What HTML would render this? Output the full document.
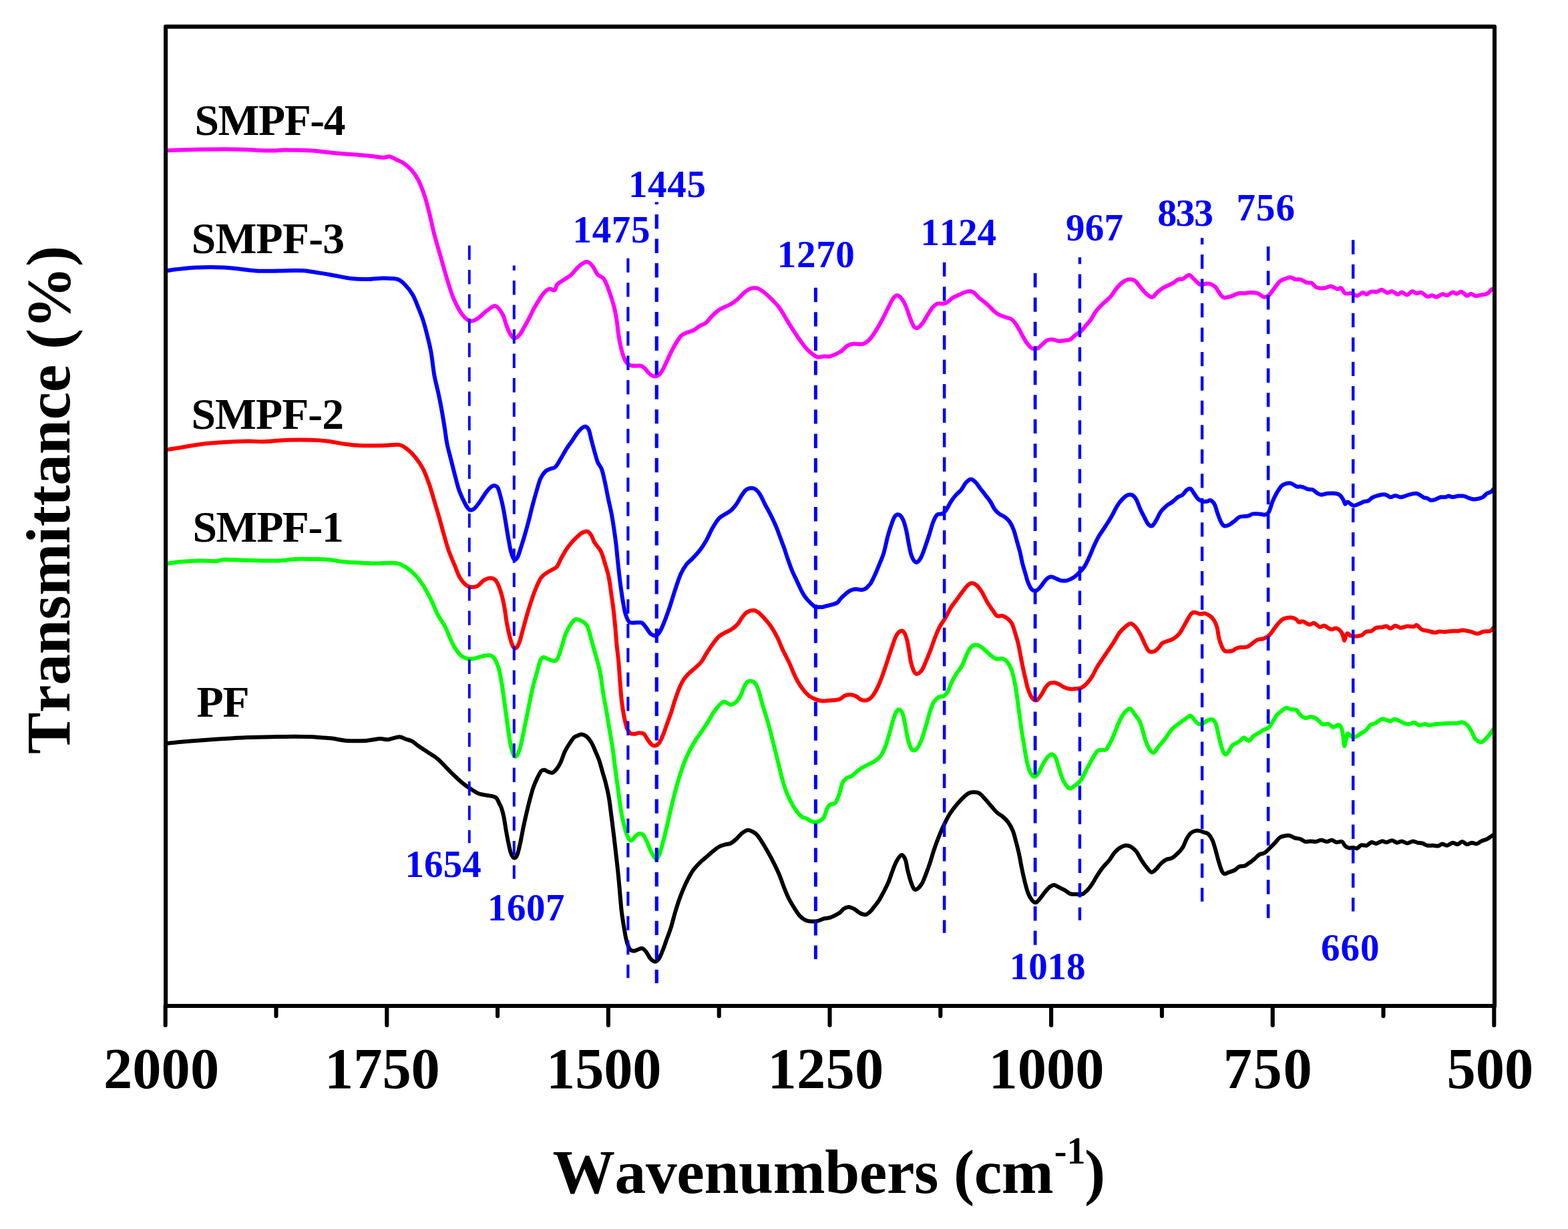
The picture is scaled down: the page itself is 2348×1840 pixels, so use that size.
<!DOCTYPE html>
<html lang="en">
<head>
<meta charset="utf-8">
<title>FTIR spectra of PF and SMPF resins</title>
<style>
html,body{margin:0;padding:0;background:#fff;}
body{width:2348px;height:1840px;overflow:hidden;}
svg{display:block;}
text{font-family:"Liberation Serif","DejaVu Serif",serif;font-weight:bold;font-kerning:none;white-space:pre;}
.c{fill:none;stroke-linejoin:round;stroke-linecap:butt;stroke-width:6.0;}
.d{fill:none;stroke:#00f;stroke-linecap:butt;}
.ax{stroke:#000;fill:none;stroke-linecap:round;stroke-width:6.1;}
.pk{fill:#00f;font-size:57px;}
.lb{fill:#000;font-size:65.6px;}
.tk{fill:#000;font-size:86.5px;}
.tt{fill:#000;font-size:93.5px;}
</style>
</head>
<body>
<svg width="2348" height="1840" viewBox="0 0 2348 1840">
<rect x="0" y="0" width="2348" height="1840" fill="#fff"/>
<g id="curves">
<path class="c" stroke="#000" d="M247.5 1113.2C251.4 1112.8 262.3 1111.6 271 1110.8C279.7 1110 288.9 1109.2 299.6 1108.4C310.4 1107.6 323.5 1106.8 335.4 1106.1C347.3 1105.3 359.3 1104.6 371.2 1104.1C383.1 1103.7 395 1103.4 407 1103.2C418.9 1103 432.4 1102.7 442.8 1102.7C453.1 1102.7 463 1103 469 1103.2C475 1103.4 473.8 1103.7 478.5 1104.1C483.3 1104.5 490.9 1104.8 497.6 1105.6C504.4 1106.4 510.7 1108.4 519.1 1108.9C527.4 1109.5 539.4 1109.4 547.7 1108.9C556.1 1108.4 563.6 1106.3 569.2 1106.1C574.7 1105.8 576.3 1107.7 581.1 1107.2C585.9 1106.8 593.4 1103.3 597.8 1103.2C602.2 1103.1 604.2 1105.5 607.3 1106.5C610.5 1107.6 613.7 1107.9 616.9 1109.6C620.1 1111.3 622.4 1114 626.4 1116.8C630.4 1119.6 636 1123.1 640.7 1126.3C645.5 1129.5 650.7 1132.3 655 1135.9C659.4 1139.4 662.6 1143.4 667 1147.8C671.3 1152.2 676.9 1157.9 681.3 1162.1C685.7 1166.3 689.2 1169.7 693.2 1172.8C697.2 1176 701.2 1178.6 705.1 1181.2C709.1 1183.8 713.1 1186.8 717.1 1188.3C721 1189.9 724.8 1189.8 729 1190.7C733.2 1191.6 738.9 1191.6 742.1 1193.8C745.3 1196 746.6 1201.3 748.1 1203.9C749.5 1206.4 749.7 1206.2 750.7 1209.3C751.8 1212.4 753.1 1216.6 754.3 1222.4C755.5 1228.1 756.7 1237.1 757.9 1243.9C759.1 1250.6 760.3 1257.4 761.5 1262.9C762.7 1268.5 763.7 1273.7 765 1277.2C766.4 1280.8 768.2 1284 769.8 1284.4C771.4 1284.8 773 1283.6 774.6 1279.6C776.2 1275.7 777.8 1267.7 779.4 1260.6C780.9 1253.4 782.5 1244.3 784.1 1236.7C785.7 1229.1 787.3 1222 788.9 1215.2C790.5 1208.5 792.1 1202.1 793.7 1196.1C795.3 1190.2 796.7 1184.6 798.4 1179.4C800.2 1174.3 802.4 1169.3 804.4 1165.1C806.4 1161 808.6 1156.5 810.4 1154.4C812.2 1152.3 813.3 1152.5 815.1 1152.7C816.9 1152.9 819.1 1154.9 821.1 1155.6C823.1 1156.3 825.1 1157.4 827.1 1156.8C829.1 1156.2 831 1154.4 833 1152C835 1149.6 836.8 1147 839 1142.5C841.2 1137.9 843.8 1129.6 846.1 1124.6C848.5 1119.6 851.1 1116 853.3 1112.7C855.5 1109.3 857.3 1106.2 859.3 1104.3C861.3 1102.4 863.2 1102 865.2 1101.2C867.2 1100.4 869 1099.3 871.2 1099.5C873.4 1099.8 876 1100.7 878.3 1102.6C880.7 1104.6 883.3 1107.8 885.5 1111.5C887.7 1115.1 889.5 1120 891.5 1124.6C893.5 1129.2 895.6 1133.7 897.4 1138.9C899.2 1144.1 900.6 1150 902.2 1155.6C903.8 1161.2 905.4 1165.9 907 1172.3C908.6 1178.7 910.4 1185.8 911.7 1193.8C913.1 1201.7 914.1 1210.9 915.3 1220C916.5 1229.1 917.7 1238.7 918.9 1248.6C920.1 1258.6 921.4 1269.8 922.5 1279.6C923.6 1289.4 924.6 1297.6 925.6 1307.3C926.6 1317.1 927.6 1328.8 928.4 1338.3C929.3 1347.9 929.8 1356.2 930.8 1364.6C931.8 1372.9 933.2 1381.3 934.4 1388.4C935.6 1395.6 936.6 1402.2 938 1407.5C939.4 1412.9 941 1417.9 942.8 1420.6C944.5 1423.3 946.7 1423.5 948.7 1423.7C950.7 1423.9 952.5 1422.5 954.7 1421.8C956.9 1421.2 959.6 1419.3 961.8 1419.9C964 1420.5 965.8 1422.9 967.8 1425.4C969.8 1427.9 971.6 1432.6 973.8 1435C975.9 1437.3 978.7 1439.7 980.9 1439.7C983.1 1439.7 984.9 1437.9 986.9 1435C988.9 1432 990.9 1426.8 992.8 1421.8C994.8 1416.9 996.8 1410.7 998.8 1405.1C1000.8 1399.6 1002.8 1394.8 1004.8 1388.4C1006.8 1382.1 1008.7 1373.7 1010.7 1367C1012.7 1360.2 1014.7 1353.7 1016.7 1347.9C1018.7 1342.1 1020.5 1337.6 1022.7 1332.4C1024.8 1327.2 1027.2 1321.9 1029.8 1316.9C1032.4 1311.9 1035.2 1306.7 1038.2 1302.6C1041.1 1298.4 1044.5 1295 1047.7 1291.8C1050.9 1288.7 1054.1 1286.3 1057.2 1283.5C1060.4 1280.7 1063.6 1277.7 1066.8 1275.1C1070 1272.6 1073.1 1269.8 1076.3 1268C1079.5 1266.2 1082.9 1265.3 1085.9 1264.4C1088.9 1263.5 1091.4 1263.9 1094.2 1262.5C1097 1261.1 1099.8 1258.5 1102.6 1256.1C1105.4 1253.6 1108.1 1249.9 1110.9 1247.7C1113.7 1245.5 1116.7 1243.4 1119.3 1242.9C1121.9 1242.5 1124 1243.7 1126.4 1244.8C1128.8 1246 1131 1247.2 1133.6 1250.1C1136.2 1253 1139.1 1257.6 1141.9 1262C1144.7 1266.4 1147.5 1271.4 1150.3 1276.3C1153.1 1281.3 1155.8 1286.3 1158.6 1291.8C1161.4 1297.4 1164.4 1303.6 1167 1309.7C1169.6 1315.9 1171.7 1322.8 1174.1 1328.8C1176.5 1334.8 1178.7 1340.3 1181.3 1345.5C1183.9 1350.7 1186.9 1355.4 1189.6 1359.8C1192.4 1364.2 1195.2 1368.8 1198 1371.7C1200.8 1374.7 1203.5 1376.4 1206.3 1377.7C1209.1 1379 1211.7 1379.2 1214.7 1379.4C1217.7 1379.6 1221 1379.6 1224.2 1378.9C1227.4 1378.2 1230.6 1376.2 1233.8 1375.3C1236.9 1374.4 1239.5 1375 1243.3 1373.7C1247.1 1372.3 1253.3 1369.2 1256.7 1367C1260.1 1364.7 1261.5 1361.8 1263.9 1360.3C1266.2 1358.8 1268.4 1357.8 1271 1357.9C1273.6 1358 1276.6 1359.5 1279.4 1361C1282.1 1362.5 1284.9 1365.6 1287.7 1367C1290.5 1368.4 1293.5 1369.8 1296.1 1369.4C1298.6 1369 1301 1366.6 1303.2 1364.6C1305.4 1362.6 1307 1360.2 1309.2 1357.4C1311.4 1354.6 1313.9 1351.7 1316.3 1347.9C1318.7 1344.1 1321.1 1339.4 1323.5 1334.8C1325.9 1330.2 1328.5 1325.4 1330.6 1320.2C1332.8 1315 1334.6 1308.7 1336.6 1303.5C1338.6 1298.3 1340.4 1293.1 1342.6 1289.2C1344.8 1285.3 1347.5 1280.5 1349.7 1280.1C1351.9 1279.7 1354.1 1282.9 1355.7 1286.8C1357.3 1290.7 1357.9 1297.9 1359.3 1303.5C1360.7 1309.1 1362.4 1315.6 1364 1320.2C1365.6 1324.8 1367.2 1329.1 1368.8 1330.9C1370.4 1332.7 1371.6 1332.3 1373.6 1330.9C1375.6 1329.5 1378.5 1326.3 1380.7 1322.6C1382.9 1318.8 1384.7 1313.4 1386.7 1308.3C1388.7 1303.1 1390.7 1297.5 1392.7 1291.6C1394.6 1285.6 1396.6 1278.4 1398.6 1272.5C1400.6 1266.5 1402.4 1261.3 1404.6 1255.8C1406.8 1250.2 1409 1245 1411.7 1239.1C1414.5 1233.1 1418.1 1225.4 1421.3 1220C1424.5 1214.6 1427.6 1210.9 1430.8 1206.9C1434 1202.9 1437.2 1199.3 1440.4 1196.1C1443.5 1193 1446.9 1189.5 1449.9 1187.8C1452.9 1186.1 1455.5 1186.1 1458.3 1186.1C1461 1186.1 1463.8 1186.1 1466.6 1187.8C1469.4 1189.5 1472.2 1193.2 1475 1196.1C1477.7 1199.1 1480.3 1202.3 1483.3 1205.7C1486.3 1209.1 1489.9 1213.6 1492.8 1216.4C1495.8 1219.2 1498.4 1220 1501.2 1222.4C1504 1224.8 1507 1227.2 1509.5 1230.7C1512.1 1234.3 1514.7 1238.9 1516.7 1243.9C1518.7 1248.8 1519.9 1254.6 1521.5 1260.6C1523.1 1266.5 1524.8 1273.3 1526.2 1279.6C1527.6 1286 1528.4 1292 1529.8 1298.7C1531.2 1305.5 1533 1313.8 1534.6 1320.2C1536.2 1326.5 1537.6 1332.3 1539.4 1336.9C1541.1 1341.5 1543.3 1345.2 1545.3 1347.6C1547.3 1350 1549.1 1351.8 1551.3 1351.2C1553.5 1350.6 1556.1 1346.8 1558.4 1344C1560.8 1341.3 1563.2 1337.3 1565.6 1334.5C1568 1331.7 1570.6 1328.9 1572.8 1327.3C1574.9 1325.7 1576.5 1324.8 1578.7 1325C1580.9 1325.2 1583.3 1327.3 1585.9 1328.5C1588.5 1329.8 1591.4 1331 1594.2 1332.6C1597 1334.2 1599.6 1337 1602.6 1338.1C1605.6 1339.1 1609.1 1338.7 1612.1 1338.8C1615.1 1338.9 1617.7 1339.9 1620.5 1338.8C1623.2 1337.7 1626.2 1334.8 1628.8 1332.1C1631.4 1329.4 1633.6 1326.1 1636 1322.6C1638.3 1319 1640.5 1314.6 1643.1 1310.6C1645.7 1306.7 1648.5 1302.5 1651.5 1298.7C1654.4 1294.9 1658 1291.8 1661 1288C1664 1284.2 1666.6 1279.2 1669.4 1276.1C1672.1 1272.9 1674.9 1270.6 1677.7 1268.9C1680.5 1267.2 1683.5 1266 1686.1 1265.8C1688.6 1265.6 1690.6 1266.2 1693.2 1267.7C1695.8 1269.2 1699 1271.7 1701.6 1274.9C1704.1 1278 1706.1 1282.8 1708.7 1286.8C1711.3 1290.8 1714.5 1295.5 1717.1 1298.7C1719.6 1301.9 1721.8 1305.5 1724.2 1305.9C1726.6 1306.3 1729 1303.3 1731.4 1301.1C1733.8 1298.9 1735.9 1295.1 1738.5 1292.8C1741.1 1290.4 1744.1 1288.2 1746.9 1286.8C1749.7 1285.4 1752.7 1286 1755.5 1284.4C1758.3 1282.8 1761.3 1279.8 1763.9 1277.2C1766.4 1274.7 1768.8 1272.5 1771 1268.9C1773.2 1265.3 1775 1259.4 1777 1255.8C1779 1252.2 1780.7 1249.4 1782.9 1247.4C1785.1 1245.4 1787.9 1244.4 1790.1 1243.9C1792.3 1243.3 1793.9 1243.5 1796.1 1243.9C1798.2 1244.3 1801 1245.4 1803.2 1246.2C1805.4 1247 1807.2 1246.8 1809.2 1248.6C1811.2 1250.4 1813.3 1253.2 1815.1 1257C1816.9 1260.7 1818.3 1265.9 1819.9 1271.3C1821.5 1276.7 1823.1 1283.8 1824.7 1289.2C1826.3 1294.5 1828 1300.3 1829.4 1303.5C1830.9 1306.7 1831.7 1307.9 1833.5 1308.3C1835.3 1308.7 1837.7 1306.7 1840.2 1305.9C1842.7 1305 1845.9 1304.4 1848.5 1303C1851.1 1301.6 1853.1 1298.6 1855.7 1297.5C1858.3 1296.4 1861.5 1297.3 1864 1296.3C1866.6 1295.3 1868.8 1293.2 1871.2 1291.6C1873.6 1289.9 1876 1288.3 1878.3 1286.3C1880.7 1284.3 1882.9 1281.2 1885.5 1279.6C1888.1 1278 1891.1 1278.6 1893.9 1276.8C1896.6 1275 1899.6 1271.4 1902.2 1268.9C1904.8 1266.4 1907 1264.2 1909.4 1261.7C1911.7 1259.2 1914.1 1255.6 1916.5 1253.9C1918.9 1252.2 1921.3 1252 1923.7 1251.5C1926.1 1251 1928.2 1250.5 1930.8 1251C1933.4 1251.5 1936.4 1253.7 1939.2 1254.6C1942 1255.5 1944.9 1255.3 1947.5 1256.3C1950.1 1257.2 1952.1 1259.6 1954.7 1260.1C1957.3 1260.6 1960.4 1259.4 1963 1259.4C1965.6 1259.4 1967.6 1260.4 1970.2 1260.1C1972.8 1259.8 1975.7 1257.7 1978.5 1257.7C1981.3 1257.7 1984.3 1260.1 1986.9 1260.1C1989.5 1260.1 1991.7 1257.5 1994 1257.7C1996.4 1257.8 1998.6 1260.6 2001.2 1261C2003.8 1261.4 2007.4 1259.2 2009.5 1260.1C2011.7 1261 2012.5 1264.9 2014.3 1266.5C2016.1 1268.1 2018.3 1269.2 2020.3 1269.6C2022.3 1270 2024.3 1268.8 2026.2 1268.9C2028.2 1269 2030.2 1270.7 2032.2 1270.1C2034.2 1269.5 2035.8 1266 2038.2 1265.3C2040.6 1264.6 2043.9 1266.5 2046.5 1265.8C2049.1 1265.1 2051.3 1261.5 2053.7 1261C2056.1 1260.6 2058.2 1263.2 2060.8 1262.9C2063.4 1262.7 2066.6 1259.7 2069.2 1259.4C2071.8 1259 2073.7 1261.2 2076.3 1261C2078.9 1260.8 2082.1 1258 2084.7 1258.2C2087.3 1258.3 2089.4 1261.5 2091.8 1261.7C2094.2 1261.9 2096.4 1259.2 2099 1259.4C2101.6 1259.5 2104.6 1262.5 2107.3 1262.5C2110.1 1262.5 2113.1 1259.5 2115.7 1259.4C2118.3 1259.2 2120.5 1261.2 2122.8 1261.7C2125.2 1262.3 2127.6 1261.8 2130 1262.5C2132.4 1263.1 2134.6 1265.2 2137.2 1265.8C2139.7 1266.4 2142.7 1265.7 2145.5 1265.8C2148.3 1265.9 2151.5 1266.9 2153.9 1266.5C2156.2 1266.1 2157.6 1263.5 2159.8 1263.4C2162 1263.3 2164.4 1266.1 2167 1265.8C2169.6 1265.5 2172.7 1262 2175.3 1261.7C2177.9 1261.5 2180.1 1264.4 2182.5 1264.1C2184.9 1263.9 2187.2 1260.1 2189.6 1260.1C2192 1260.1 2194.4 1263.9 2196.8 1264.1C2199.2 1264.4 2201.6 1261.9 2203.9 1261.7C2206.3 1261.6 2208.7 1263.8 2211.1 1263.4C2213.5 1263 2215.7 1260.6 2218.3 1259.4C2220.8 1258.2 2224 1257.6 2226.6 1256.3C2229.2 1254.9 2232 1252.6 2233.8 1251.5C2235.6 1250.4 2236.5 1250.2 2237.3 1249.8C2238.2 1249.5 2238.7 1249.4 2239 1249.4"><title>PF</title></path>
<path class="c" stroke="#0f0" d="M247.5 844.1C251.4 843.6 262.3 841.8 271 841C279.7 840.2 290.9 839.5 299.6 839.4C308.4 839.2 317.5 840.4 323.5 840.1C329.4 839.8 329.4 837.9 335.4 837.7C341.4 837.4 349.3 838.4 359.3 838.6C369.2 838.9 385.1 839.2 395 839.4C405 839.5 410.9 839.8 418.9 839.4C426.9 839 434.8 837.4 442.8 837C450.7 836.6 458.7 836.9 466.6 837C474.6 837.1 482.5 837 490.5 837.7C498.4 838.4 506.4 840.2 514.3 841C522.3 841.8 530.2 842.1 538.2 842.5C546.1 842.9 552.9 843.3 562 843.4C571.2 843.5 585.5 842 593 842.9C600.6 843.9 602.6 845.9 607.3 848.9C612.1 851.9 617.3 856.3 621.7 860.8C626 865.4 629.6 870.2 633.6 876.3C637.6 882.5 641.9 890.6 645.5 897.8C649.1 905 651.5 912.4 655 919.3C658.6 926.1 663.8 933 667 939.1C670.2 945.2 671.7 950.6 674.1 955.8C676.5 960.9 678.7 965.9 681.3 970.1C683.9 974.3 686.9 978.2 689.6 980.8C692.4 983.4 695 984.7 698 985.6C701 986.5 704.3 986.6 707.5 986.3C710.7 986 713.9 984.7 717.1 983.9C720.2 983.1 723.6 981.9 726.6 981.5C729.6 981.1 732.6 980.7 735 981.5C737.3 982.4 738.9 983.5 740.9 986.8C742.9 990 745.2 995.6 746.9 1001.1C748.5 1006.6 749.5 1012.6 750.7 1019.6C752 1026.7 753.1 1035.1 754.3 1043.5C755.5 1051.8 756.7 1061 757.9 1069.7C759.1 1078.5 760.3 1088 761.5 1096C762.7 1103.9 763.7 1111.5 765 1117.4C766.4 1123.3 768.2 1129.1 769.8 1131.3C771.4 1133.5 773 1132.9 774.6 1130.6C776.2 1128.2 777.8 1123.2 779.4 1117.4C780.9 1111.7 782.5 1103.5 784.1 1096C785.7 1088.4 787.3 1080.1 788.9 1072.1C790.5 1064.2 792.1 1055.8 793.7 1048.3C795.3 1040.7 796.7 1033.9 798.4 1026.8C800.2 1019.6 802.6 1011.7 804.4 1005.3C806.2 999 807.6 992.2 809.2 988.6C810.8 985 811.8 984.1 813.9 983.9C816.1 983.7 819.5 986.4 822.3 987.4C825.1 988.4 828.5 990.2 830.6 989.8C832.8 989.4 833.6 988.8 835.4 985C837.2 981.3 839.4 973.5 841.4 967.3C843.4 961.2 845.2 953.6 847.3 948.3C849.5 942.9 852.1 938.6 854.5 935.1C856.9 931.6 859.1 928.3 861.7 927.3C864.2 926.3 867 927.5 870 929.2C873 930.9 877 932.8 879.5 937.5C882.1 942.3 883.5 950.8 885.5 957.8C887.5 964.8 889.7 972.9 891.5 979.3C893.3 985.6 894.8 990.2 896.2 995.8C897.6 1001.3 898.6 1005.3 899.8 1012.5C901 1019.6 902 1030 903.4 1038.7C904.8 1047.5 906.6 1055.8 908.2 1065C909.8 1074.1 911.3 1084 912.9 1093.6C914.5 1103.1 916.3 1112.7 917.7 1122.2C919.1 1131.7 920.1 1141.7 921.3 1150.8C922.5 1160 923.7 1168.3 924.9 1177.1C926.1 1185.8 927.2 1195.4 928.4 1203.3C929.6 1211.3 930.6 1218 932 1224.8C933.4 1231.5 935.2 1238.7 936.8 1243.9C938.4 1249 940 1253.4 941.6 1255.8C943.1 1258.2 944.7 1258.8 946.3 1258.2C947.9 1257.6 949.3 1253.9 951.1 1252.2C952.9 1250.5 955.1 1248.5 957.1 1248.1C959.1 1247.7 961 1247.7 963 1249.8C965 1251.9 967.2 1256.8 969 1260.6C970.8 1264.3 972 1268.7 973.8 1272.5C975.6 1276.3 978.1 1281 979.7 1283.2C981.3 1285.4 981.9 1286.6 983.3 1285.6C984.7 1284.6 986.5 1281.4 988.1 1277.2C989.7 1273.1 991.1 1267.3 992.8 1260.6C994.6 1253.8 996.8 1245 998.8 1236.7C1000.8 1228.3 1002.8 1218.8 1004.8 1210.5C1006.8 1202.1 1008.7 1194.2 1010.7 1186.6C1012.7 1179.1 1014.5 1172.3 1016.7 1165.1C1018.9 1158 1021.3 1150.4 1023.9 1143.7C1026.4 1136.9 1029.2 1130.6 1032.2 1124.6C1035.2 1118.6 1038.8 1112.7 1041.7 1107.9C1044.7 1103.1 1047.1 1100.3 1050.1 1096C1053.1 1091.6 1056.7 1086.4 1059.6 1081.7C1062.6 1076.9 1065.2 1071.5 1068 1067.3C1070.8 1063.2 1073.7 1059.4 1076.3 1056.6C1078.9 1053.8 1081.1 1051.2 1083.5 1050.6C1085.9 1050.1 1088.7 1052.8 1090.6 1053.5C1092.6 1054.2 1093.4 1055.4 1095.4 1054.9C1097.4 1054.5 1100.4 1052.7 1102.6 1050.6C1104.8 1048.5 1106.5 1046.1 1108.5 1042.3C1110.5 1038.5 1112.7 1031.6 1114.5 1028C1116.3 1024.4 1117.5 1022.2 1119.3 1020.8C1121.1 1019.4 1123.2 1019.2 1125.2 1019.6C1127.2 1020 1129.4 1020.8 1131.2 1023.2C1133 1025.6 1134.2 1028.6 1136 1033.9C1137.8 1039.3 1139.9 1048.7 1141.9 1055.4C1143.9 1062.2 1145.9 1067.7 1147.9 1074.5C1149.9 1081.3 1151.9 1088.4 1153.9 1096C1155.8 1103.5 1157.8 1111.9 1159.8 1119.8C1161.8 1127.8 1163.8 1135.7 1165.8 1143.7C1167.8 1151.6 1169.6 1160 1171.7 1167.5C1173.9 1175.1 1176.3 1182.6 1178.9 1189C1181.5 1195.4 1184.7 1201.1 1187.2 1205.7C1189.8 1210.3 1192 1213.4 1194.4 1216.4C1196.8 1219.4 1199.4 1222.1 1201.6 1223.6C1203.7 1225 1205.5 1224.3 1207.5 1225.2C1209.5 1226.2 1211.5 1228.1 1213.5 1229.1C1215.5 1230 1217.3 1230.7 1219.4 1230.7C1221.6 1230.8 1224.2 1230.7 1226.6 1229.5C1229 1228.3 1231.8 1226.8 1233.8 1223.6C1235.7 1220.4 1236.9 1213.6 1238.5 1210.5C1240.1 1207.3 1241.3 1205.9 1243.3 1204.5C1245.3 1203.1 1248.5 1204.7 1250.7 1202.1C1253 1199.5 1254.9 1194 1256.7 1189C1258.5 1184 1259.7 1176.3 1261.5 1172.3C1263.3 1168.3 1265 1166.9 1267.4 1165.1C1269.8 1163.3 1272.8 1163.5 1275.8 1161.6C1278.8 1159.6 1281.7 1155.8 1285.3 1153.2C1288.9 1150.6 1293.3 1148.2 1297.2 1146.1C1301.2 1143.9 1305.6 1142.5 1309.2 1140.1C1312.8 1137.7 1315.9 1135.5 1318.7 1131.7C1321.5 1128 1323.7 1123 1325.9 1117.4C1328.1 1111.9 1329.8 1105.1 1331.8 1098.3C1333.8 1091.6 1336 1082.4 1337.8 1076.9C1339.6 1071.3 1341 1067.3 1342.6 1065C1344.2 1062.6 1345.7 1061.8 1347.3 1062.6C1348.9 1063.4 1350.7 1065.7 1352.1 1069.7C1353.5 1073.7 1354.5 1080.5 1355.7 1086.4C1356.9 1092.4 1357.9 1099.9 1359.3 1105.5C1360.7 1111.1 1362.4 1116.8 1364 1119.8C1365.6 1122.8 1367 1123.6 1368.8 1123.4C1370.6 1123.2 1372.8 1121.6 1374.8 1118.6C1376.8 1115.6 1378.7 1110.9 1380.7 1105.5C1382.7 1100.1 1384.7 1093.2 1386.7 1086.4C1388.7 1079.7 1390.7 1070.9 1392.7 1065C1394.6 1059 1396.4 1054.2 1398.6 1050.6C1400.8 1047.1 1403.4 1044.9 1405.8 1043.5C1408.2 1042.1 1410.7 1043.5 1412.9 1042.3C1415.1 1041.1 1416.9 1039.7 1418.9 1036.3C1420.9 1033 1422.7 1026.6 1424.9 1022C1427 1017.4 1429.4 1013.1 1432 1008.9C1434.6 1004.7 1437.8 1001.7 1440.4 997C1443 992.2 1445.3 984.8 1447.5 980.3C1449.7 975.7 1451.3 972 1453.5 969.5C1455.7 967 1458.3 965.6 1460.6 965.2C1463 964.9 1465.2 966.1 1467.8 967.6C1470.4 969.1 1473.2 971.8 1476.1 974.3C1479.1 976.8 1482.9 980.6 1485.7 982.7C1488.5 984.7 1490.3 986.2 1492.8 986.7C1495.4 987.2 1498.6 985 1501.2 985.8C1503.8 986.5 1506.2 988.3 1508.3 991C1510.5 993.7 1512.5 997 1514.3 1001.7C1516.1 1006.5 1517.7 1013.1 1519.1 1019.6C1520.5 1026.2 1521.5 1033.1 1522.7 1041.1C1523.9 1049.1 1525 1058.6 1526.2 1067.3C1527.4 1076.1 1528.6 1085.6 1529.8 1093.6C1531 1101.5 1532.2 1107.9 1533.4 1115C1534.6 1122.2 1535.8 1130.6 1537 1136.5C1538.2 1142.5 1539.2 1146.9 1540.6 1150.8C1541.9 1154.8 1543.7 1158.4 1545.3 1160.4C1546.9 1162.4 1548.3 1163.5 1550.1 1162.8C1551.9 1162 1554.1 1158.8 1556.1 1155.6C1558 1152.4 1559.8 1147.4 1562 1143.7C1564.2 1139.9 1566.8 1135.3 1569.2 1132.9C1571.6 1130.6 1574.3 1129 1576.3 1129.4C1578.3 1129.8 1579.5 1131.7 1581.1 1135.3C1582.7 1138.9 1584.3 1145.9 1585.9 1150.8C1587.5 1155.8 1588.9 1161 1590.6 1165.1C1592.4 1169.3 1594.6 1173.3 1596.6 1175.9C1598.6 1178.5 1600.4 1180.6 1602.6 1180.6C1604.8 1180.6 1607.1 1177.9 1609.7 1175.9C1612.3 1173.9 1615.3 1172.5 1618.1 1168.7C1620.9 1164.9 1623.6 1158.4 1626.4 1153.2C1629.2 1148 1632 1142.5 1634.8 1137.7C1637.6 1132.9 1640.5 1127.1 1643.1 1124.6C1645.7 1122.1 1648.1 1123.1 1650.3 1122.7C1652.5 1122.3 1654.1 1124.3 1656.2 1122.2C1658.4 1120.1 1661 1115 1663.4 1110.3C1665.8 1105.5 1668.4 1098.7 1670.6 1093.6C1672.7 1088.4 1674.3 1083.6 1676.5 1079.3C1678.7 1074.9 1681.1 1070.4 1683.7 1067.3C1686.3 1064.2 1689.4 1060.3 1692 1060.7C1694.6 1061.1 1696.8 1066.6 1699.2 1069.7C1701.6 1072.8 1704.3 1075.3 1706.3 1079.3C1708.3 1083.2 1709.5 1088.4 1711.1 1093.6C1712.7 1098.7 1714.1 1105.5 1715.9 1110.3C1717.7 1115 1719.8 1119.4 1721.8 1122.2C1723.8 1125 1725.6 1127.8 1727.8 1127C1730 1126.2 1732.4 1120.6 1735 1117.4C1737.5 1114.3 1740.1 1112.1 1743.3 1107.9C1746.5 1103.7 1751.1 1096.2 1754.3 1092.4C1757.5 1088.6 1759.9 1087.4 1762.7 1085.2C1765.4 1083 1768.4 1081.1 1771 1079.3C1773.6 1077.4 1776.2 1075.3 1778.2 1074C1780.2 1072.7 1781.1 1071 1782.9 1071.6C1784.7 1072.3 1786.9 1076 1788.9 1078.1C1790.9 1080.1 1792.7 1083.2 1794.9 1084C1797 1084.8 1799.6 1083.8 1802 1082.8C1804.4 1081.9 1806.8 1079 1809.2 1078.1C1811.6 1077.2 1814.3 1076.2 1816.3 1077.4C1818.3 1078.6 1819.7 1081.3 1821.1 1085.2C1822.5 1089.1 1823.5 1095.8 1824.7 1100.7C1825.9 1105.7 1827.1 1110.9 1828.3 1115C1829.4 1119.2 1830.6 1123.3 1831.8 1125.8C1833 1128.2 1834 1130 1835.4 1129.8C1836.8 1129.6 1838.6 1126.9 1840.2 1124.6C1841.8 1122.3 1843.2 1118.2 1845 1116.2C1846.7 1114.3 1848.9 1113.9 1850.9 1112.7C1852.9 1111.5 1854.9 1110.5 1856.9 1109.1C1858.9 1107.7 1860.7 1104.3 1862.8 1104.3C1865 1104.3 1867.6 1109.5 1870 1109.1C1872.4 1108.7 1874.6 1103.9 1877.2 1101.9C1879.7 1099.9 1882.9 1098.7 1885.5 1097.2C1888.1 1095.6 1890.3 1093.7 1892.7 1092.4C1895 1091.1 1897.6 1091.3 1899.8 1089.3C1902 1087.3 1903.8 1083.5 1905.8 1080.5C1907.8 1077.4 1909.6 1073.6 1911.7 1070.9C1913.9 1068.3 1916.5 1066.3 1918.9 1064.5C1921.3 1062.6 1923.7 1060.1 1926.1 1059.7C1928.4 1059.3 1930.6 1061.5 1933.2 1062.1C1935.8 1062.6 1939.2 1061.6 1941.6 1063C1943.9 1064.5 1945.3 1068.9 1947.5 1070.9C1949.7 1072.9 1952.3 1074.6 1954.7 1075C1957.1 1075.4 1959.4 1073.4 1961.8 1073.3C1964.2 1073.2 1966.8 1073.5 1969 1074.5C1971.2 1075.5 1973 1077.6 1975 1079.3C1976.9 1080.9 1978.5 1083.8 1980.9 1084.5C1983.3 1085.2 1986.7 1082.8 1989.3 1083.6C1991.9 1084.3 1994 1088.5 1996.4 1088.8C1998.8 1089.1 2001.6 1085.2 2003.6 1085.2C2005.6 1085.2 2007 1085.8 2008.3 1088.8C2009.7 1091.8 2010.7 1098.4 2011.4 1103.1C2012.2 1107.8 2012.4 1116.2 2013.1 1117C2013.8 1117.7 2014.7 1111 2015.5 1107.9C2016.3 1104.8 2016.9 1099.5 2017.9 1098.3C2018.9 1097.2 2020.1 1099.9 2021.5 1100.7C2022.9 1101.6 2024.4 1103.4 2026.2 1103.6C2028 1103.8 2030.2 1102.9 2032.2 1101.9C2034.2 1101 2036 1099.3 2038.2 1097.9C2040.4 1096.5 2042.9 1095.7 2045.3 1093.6C2047.7 1091.5 2050.1 1087 2052.5 1085.2C2054.9 1083.4 2056.9 1084.3 2059.6 1082.8C2062.4 1081.4 2066.4 1077.2 2069.2 1076.4C2072 1075.6 2074.1 1077.5 2076.3 1078.1C2078.5 1078.6 2080.3 1080 2082.3 1079.7C2084.3 1079.5 2086.1 1076.5 2088.3 1076.4C2090.4 1076.3 2092.6 1078.1 2095.4 1079.3C2098.2 1080.5 2102.2 1082.8 2105 1083.6C2107.7 1084.3 2109.9 1083.9 2112.1 1083.6C2114.3 1083.2 2115.9 1081.3 2118.1 1081.7C2120.3 1082 2122.6 1085.5 2125.2 1085.9C2127.8 1086.3 2131 1084 2133.6 1084C2136.2 1084 2138 1085.9 2140.7 1085.9C2143.5 1085.9 2147.1 1084.4 2150.3 1084C2153.5 1083.6 2156.6 1083.8 2159.8 1083.6C2163 1083.4 2165.8 1083 2169.4 1082.8C2172.9 1082.7 2177.9 1083.1 2181.3 1082.8C2184.7 1082.6 2187 1080.8 2189.6 1081.2C2192.2 1081.6 2194.6 1083.2 2196.8 1085.2C2199 1087.3 2200.8 1090.2 2202.8 1093.6C2204.7 1097 2206.9 1102.8 2208.7 1105.5C2210.5 1108.2 2211.7 1108.9 2213.5 1109.8C2215.3 1110.7 2217.5 1111.5 2219.4 1110.8C2221.4 1110 2223.4 1107.6 2225.4 1105.5C2227.4 1103.4 2229.4 1100.9 2231.4 1098.3C2233.4 1095.8 2236.1 1091.6 2237.3 1090C2238.6 1088.4 2238.7 1088.8 2239 1088.6"><title>SMPF-1</title></path>
<path class="c" stroke="#f00" d="M247.5 673.6C251.4 673 262.3 671.4 271 670C279.7 668.6 288.9 666.5 299.6 665.2C310.4 663.9 323.5 662.9 335.4 662.1C347.3 661.3 361.3 660.6 371.2 660.5C381.1 660.3 385.1 661.5 395 661.2C405 660.9 418.9 659.2 430.8 658.8C442.8 658.4 456.7 658.5 466.6 658.8C476.5 659.1 482.5 659.5 490.5 660.5C498.4 661.4 506.4 663.4 514.3 664.5C522.3 665.6 528.2 666.5 538.2 666.9C548.1 667.3 564 667.1 573.9 666.9C583.9 666.7 591.8 665 597.8 665.9C603.8 666.9 605.7 669.3 609.7 672.4C613.7 675.4 617.7 679.3 621.7 684.3C625.6 689.3 630 695.2 633.6 702.2C637.2 709.2 640.3 718.1 643.1 726.1C645.9 734 647.9 742 650.3 749.9C652.7 757.9 655 765.4 657.4 773.8C659.8 782.1 662.2 791.7 664.6 800C667 808.3 669 815.9 671.7 823.9C674.5 831.8 678.5 840.9 681.3 847.7C684.1 854.5 685.9 859.8 688.4 864.4C691 869 694.2 872.8 696.8 875.1C699.4 877.5 701 878.3 703.9 878.7C706.9 879.1 711.3 879.1 714.7 877.5C718.1 875.9 720.8 871.2 724.2 869.2C727.6 867.2 731.8 865.4 735 865.6C738.1 865.8 740.7 866.5 743.3 870.4C745.9 874.2 748.7 882 750.7 888.6C752.8 895.2 754.1 902.5 755.5 910.1C756.9 917.6 757.7 926.4 759.1 933.9C760.5 941.5 762.3 949.6 763.9 955.4C765.4 961.2 767 966.1 768.6 968.5C770.2 970.9 771.8 971.1 773.4 969.7C775 968.3 776.4 965.4 778.2 960.2C780 955 782.1 945.9 784.1 938.7C786.1 931.6 788.1 924 790.1 917.2C792.1 910.5 793.9 904.5 796.1 898.2C798.2 891.8 800.8 884.6 803.2 879.1C805.6 873.5 807.8 868.3 810.4 864.8C813 861.2 815.9 859.6 818.7 857.6C821.5 855.6 824.5 854.4 827.1 852.8C829.6 851.3 832 850.9 834.2 848.1C836.4 845.3 837.8 840.5 840.2 836.1C842.6 831.8 845.7 826 848.5 821.8C851.3 817.7 854.3 814.1 856.9 811.1C859.5 808.1 861.7 806.1 864 803.9C866.4 801.8 868.6 799.4 871.2 798C873.8 796.6 877.2 795 879.5 795.6C881.9 796.2 883.7 798.8 885.5 801.6C887.3 804.3 887.9 808.3 890.3 812.3C892.7 816.3 897.2 820.2 899.8 825.4C902.4 830.6 903.8 836.7 905.8 843.3C907.8 849.9 910.2 857.2 911.7 864.8C913.3 872.3 914.1 880.3 915.3 888.6C916.5 897 917.9 906.5 918.9 914.9C919.9 923.2 920.5 930 921.3 938.7C922.1 947.5 922.9 959 923.7 967.3C924.5 975.7 925.3 979.9 926.1 988.6C926.9 997.3 927.6 1009.7 928.4 1019.6C929.2 1029.6 929.8 1039.5 930.8 1048.3C931.8 1057 933 1065 934.4 1072.1C935.8 1079.3 937.6 1086.9 939.2 1091.2C940.8 1095.5 942.2 1096.6 943.9 1097.9C945.7 1099.1 947.7 1098.9 949.9 1098.8C952.1 1098.7 954.7 1097.2 957.1 1097.2C959.4 1097.2 962 1097 964.2 1098.8C966.4 1100.6 968.2 1105.2 970.2 1107.9C972.2 1110.6 974.4 1113.6 976.1 1115C977.9 1116.5 979.1 1116.9 980.9 1116.5C982.7 1116.1 984.9 1115.3 986.9 1112.7C988.9 1110 990.9 1105.5 992.8 1100.7C994.8 1096 996.8 1089.6 998.8 1084C1000.8 1078.5 1002.8 1073.3 1004.8 1067.3C1006.8 1061.4 1008.7 1054.2 1010.7 1048.3C1012.7 1042.3 1014.5 1036.7 1016.7 1031.6C1018.9 1026.4 1021.3 1021.2 1023.9 1017.2C1026.4 1013.3 1029.2 1010.7 1032.2 1007.7C1035.2 1004.7 1038.8 1002.1 1041.7 999.4C1044.7 996.6 1047.5 994.4 1050.1 991C1052.7 987.7 1054.5 983.6 1057.2 979.3C1060 974.9 1063.6 969.3 1066.8 965C1070 960.6 1073.1 956 1076.3 953C1079.5 950 1082.7 948.9 1085.9 947.1C1089.1 945.3 1092.2 944.5 1095.4 942.3C1098.6 940.1 1102.2 937.1 1105 933.9C1107.7 930.8 1109.7 926.2 1112.1 923.2C1114.5 920.2 1116.5 917.6 1119.3 916.1C1122 914.5 1126 913.5 1128.8 913.7C1131.6 913.9 1133.2 915.1 1136 917.2C1138.7 919.4 1142.3 923.2 1145.5 926.8C1148.7 930.4 1151.9 933.9 1155 938.7C1158.2 943.5 1161.8 949.8 1164.6 955.4C1167.4 961 1169 966.2 1171.7 972.1C1174.5 978 1178.5 985.1 1181.3 991C1184.1 996.9 1186.1 1002.5 1188.4 1007.7C1190.8 1012.9 1193 1017.6 1195.6 1022C1198.2 1026.4 1201.2 1030.6 1203.9 1033.9C1206.7 1037.3 1209.3 1040.1 1212.3 1042.3C1215.3 1044.5 1218.7 1045.9 1221.8 1047.1C1225 1048.3 1228.2 1049.2 1231.4 1049.4C1234.6 1049.7 1236.7 1049.1 1240.9 1048.7C1245.1 1048.3 1252.7 1048.3 1256.7 1047.1C1260.7 1045.9 1262.3 1042.8 1265 1041.6C1267.8 1040.4 1270.6 1039.8 1273.4 1039.9C1276.2 1040 1279 1041 1281.7 1042.3C1284.5 1043.6 1287.1 1046.9 1290.1 1047.8C1293.1 1048.7 1296.7 1049.1 1299.6 1047.8C1302.6 1046.5 1305.2 1043.8 1308 1039.9C1310.8 1036 1313.7 1030.2 1316.3 1024.4C1318.9 1018.6 1321.1 1012.1 1323.5 1005.3C1325.9 998.6 1328.7 989.8 1330.6 983.9C1332.6 977.9 1333.6 974.9 1335.4 969.7C1337.2 964.6 1339.4 957.1 1341.4 953C1343.4 949 1345.4 946.6 1347.3 945.4C1349.3 944.2 1351.5 943.8 1353.3 945.9C1355.1 947.9 1356.7 952.6 1358.1 957.8C1359.5 963 1360.7 971.3 1361.7 976.9C1362.6 982.4 1362.8 986.3 1364 991C1365.2 995.7 1367.2 1002.3 1368.8 1005.3C1370.4 1008.3 1371.6 1009.3 1373.6 1008.9C1375.6 1008.5 1378.5 1006.1 1380.7 1002.9C1382.9 999.8 1384.5 995 1386.7 989.8C1388.9 984.7 1391.7 977.8 1393.9 972.1C1396 966.4 1397.6 961 1399.8 955.4C1402 949.8 1404.4 943.7 1407 938.7C1409.6 933.7 1412.5 930.4 1415.3 925.6C1418.1 920.8 1420.7 914.9 1423.7 910.1C1426.7 905.3 1430 901.3 1433.2 897C1436.4 892.6 1440 887.4 1442.8 883.9C1445.5 880.3 1447.7 877.3 1449.9 875.5C1452.1 873.7 1453.7 872.9 1455.9 873.1C1458.1 873.3 1460.6 874.5 1463 876.7C1465.4 878.9 1467.6 882.1 1470.2 886.2C1472.8 890.4 1475.9 897.4 1478.5 901.7C1481.1 906.1 1483.3 909.1 1485.7 912.5C1488.1 915.9 1490.3 920.4 1492.8 922C1495.4 923.6 1498.4 921.2 1501.2 922C1504 922.8 1507.2 924.8 1509.5 926.8C1511.9 928.8 1513.7 930.4 1515.5 933.9C1517.3 937.5 1518.7 943.1 1520.3 948.3C1521.9 953.4 1523.3 957 1525 965C1526.8 972.9 1529.2 987.1 1531 995.8C1532.8 1004.5 1534.4 1011.3 1535.8 1017.2C1537.2 1023.2 1537.8 1027 1539.4 1031.6C1540.9 1036.1 1543.1 1041.9 1545.3 1044.7C1547.5 1047.5 1550.1 1049.1 1552.5 1048.3C1554.9 1047.5 1557.4 1043.1 1559.6 1039.9C1561.8 1036.7 1563.6 1032 1565.6 1029.2C1567.6 1026.4 1569.4 1024.4 1571.6 1023.2C1573.7 1022 1576.3 1021.8 1578.7 1022C1581.1 1022.2 1583.5 1023.3 1585.9 1024.4C1588.3 1025.5 1590.2 1027.5 1593 1028.7C1595.8 1029.9 1599.4 1031.2 1602.6 1031.6C1605.7 1032 1609.3 1031.4 1612.1 1031.1C1614.9 1030.8 1616.9 1030.8 1619.3 1029.7C1621.7 1028.5 1623.8 1027.1 1626.4 1024.4C1629 1021.7 1632 1018 1634.8 1013.7C1637.6 1009.3 1640.1 1003.1 1643.1 998.2C1646.1 993.2 1650.3 987.4 1652.7 983.9C1655 980.3 1655 980.4 1657.4 976.9C1659.8 973.3 1663.8 967.5 1667 962.6C1670.2 957.6 1673.5 951 1676.5 947.1C1679.5 943.1 1682.1 941 1684.9 938.7C1687.6 936.4 1690.6 933.5 1693.2 933.5C1695.8 933.5 1698 936.1 1700.4 938.7C1702.8 941.4 1705.1 945.1 1707.5 949.4C1709.9 953.8 1712.5 960.7 1714.7 965C1716.9 969.2 1718.3 973.3 1720.6 975C1723 976.6 1726.4 976 1729 975C1731.6 973.9 1734.2 970.6 1736.1 968.5C1738.1 966.5 1737.5 964.6 1740.9 962.6C1744.3 960.6 1752.5 959 1756.7 956.6C1760.9 954.2 1763.5 951.6 1766.2 948.3C1769 944.9 1771.2 940.1 1773.4 936.3C1775.6 932.6 1777.6 928.6 1779.4 925.6C1781.1 922.6 1782.5 919.9 1784.1 918.4C1785.7 917 1786.7 916.7 1788.9 916.8C1791.1 916.9 1794.7 918.9 1797.2 919.2C1799.8 919.4 1802 918 1804.4 918.4C1806.8 918.9 1809.4 920.4 1811.6 922C1813.7 923.6 1815.7 925.2 1817.5 928C1819.3 930.8 1821 934.1 1822.3 938.7C1823.6 943.3 1824.2 950.6 1825.4 955.4C1826.6 960.2 1828 964.2 1829.4 967.3C1830.9 970.5 1831.6 973.3 1834.2 974.5C1836.8 975.7 1842.2 975.1 1845 974.5C1847.7 973.9 1848.9 971.8 1850.9 970.9C1852.9 970 1854.1 969.6 1856.9 969.2C1859.7 968.9 1864.4 969.6 1867.6 968.5C1870.8 967.4 1873.4 964.4 1876 962.6C1878.5 960.8 1880.3 958.9 1883.1 957.8C1885.9 956.7 1889.7 957.1 1892.7 955.9C1895.6 954.7 1898.4 953.1 1901 950.6C1903.6 948.2 1905.8 944.2 1908.2 941.1C1910.6 938 1912.9 934.5 1915.3 932C1917.7 929.6 1919.5 927.6 1922.5 926.3C1925.5 925 1930.2 924.3 1933.2 924.4C1936.2 924.5 1938.4 925.6 1940.4 926.8C1942.4 928 1943.3 931 1945.1 931.6C1946.9 932.2 1948.5 929.8 1951.1 930.4C1953.7 931 1957.9 934.7 1960.6 935.1C1963.4 935.5 1965.2 932.2 1967.8 932.8C1970.4 933.3 1973.6 938 1976.1 938.7C1978.7 939.4 1980.5 936.2 1983.3 936.8C1986.1 937.4 1989.9 941.7 1992.8 942.3C1995.8 942.9 1998.6 940 2001.2 940.6C2003.8 941.2 2006.6 943.8 2008.3 945.9C2010.1 947.9 2010.7 950.8 2011.4 953C2012.2 955.2 2012.4 959.2 2013.1 959C2013.8 958.8 2014.7 953.6 2015.5 951.8C2016.3 950 2016.7 948.3 2017.9 948.3C2019.1 948.3 2020.7 951.1 2022.7 951.8C2024.6 952.6 2027 952.7 2029.8 952.6C2032.6 952.4 2036.8 952.2 2039.4 951.1C2041.9 950 2042.9 946.9 2045.3 945.9C2047.7 944.8 2051.1 945.7 2053.7 944.7C2056.3 943.7 2058.2 940.8 2060.8 939.9C2063.4 939 2066.6 939.6 2069.2 939.2C2071.8 938.8 2074.1 937.2 2076.3 937.5C2078.5 937.8 2080.1 941.2 2082.3 941.1C2084.5 941 2086.9 937 2089.4 936.8C2092 936.6 2094.8 939.8 2097.8 939.9C2100.8 940 2104.2 937.8 2107.3 937.5C2110.5 937.2 2114.5 938.5 2116.9 938.2C2119.3 938 2119.7 935.2 2121.7 935.9C2123.6 936.5 2126 940.8 2128.8 942.3C2131.6 943.8 2135 943.9 2138.3 944.7C2141.7 945.5 2146.3 946.9 2149.1 947.1C2151.9 947.2 2152.7 945.6 2155 945.4C2157.4 945.2 2160 946 2163.4 945.9C2166.8 945.8 2171.9 944.9 2175.3 944.7C2178.7 944.5 2181.1 944.9 2183.7 944.7C2186.3 944.5 2187.6 943.3 2190.8 943.5C2194 943.7 2199.2 945 2202.8 945.9C2206.3 946.7 2209.1 948.8 2212.3 948.7C2215.5 948.7 2218.7 946.1 2221.8 945.4C2225 944.7 2228.8 945.8 2231.4 944.7C2234 943.6 2236.1 939.9 2237.3 938.7C2238.6 937.6 2238.7 937.9 2239 937.7"><title>SMPF-2</title></path>
<path class="c" stroke="#00f" d="M247.5 405.7C250.2 405.3 256 404.2 263.9 403.3C271.7 402.4 282.9 400.9 294.9 400.4C306.8 400 324.7 400 335.4 400.4C346.1 400.8 350.5 402 359.3 402.8C368 403.7 376 405.3 387.9 405.7C399.8 406.1 419.7 405.3 430.8 405.2C442 405.1 446.7 404.7 454.7 405.2C462.6 405.8 470.6 407.3 478.5 408.6C486.5 409.8 494.4 411.4 502.4 412.8C510.3 414.3 518.3 416.3 526.2 417.1C534.2 418 542.1 418.2 550.1 418.1C558 418 566.4 416.4 573.9 416.4C581.5 416.4 589.8 416.3 595.4 418.1C601 419.9 603.6 423.3 607.3 427.2C611.1 431.1 614.9 435.9 618.1 441.5C621.3 447 623.8 454.2 626.4 460.6C629 466.9 631.4 472.9 633.6 479.6C635.8 486.4 637.6 493.1 639.5 501.1C641.5 509.1 643.7 517.3 645.5 527.3C647.3 537.4 648.5 551.4 650.3 561.5C652.1 571.5 654.4 579.4 656.2 587.7C658 596.1 659.4 602.8 661 611.6C662.6 620.3 664.4 631.4 665.8 640.2C667.2 648.9 667.8 656.1 669.4 664C670.9 672 673.3 679.9 675.3 687.9C677.3 695.8 679.3 704.2 681.3 711.7C683.3 719.3 685.1 726.9 687.2 733.2C689.4 739.6 692.2 745.3 694.4 749.9C696.6 754.5 698.6 758.3 700.4 760.6C702.2 762.9 703.3 763.7 705.1 763.7C706.9 763.7 708.7 762.9 711.1 760.6C713.5 758.3 716.5 754.1 719.4 749.9C722.4 745.7 726.2 739.2 729 735.6C731.8 732 734.2 729.8 736.1 728.4C738.1 727 739.3 726.9 740.9 727.2C742.5 727.6 744.1 727.4 745.7 730.8C747.3 734.3 749.3 742.3 750.7 747.9C752.2 753.5 753.1 758.2 754.3 764.6C755.5 770.9 756.7 778.9 757.9 786.1C759.1 793.2 760.3 801 761.5 807.5C762.7 814.1 763.7 820.4 765 825.4C766.4 830.4 768.2 835.7 769.8 837.3C771.4 838.9 773 837.5 774.6 835C776.2 832.4 777.6 827.2 779.4 821.8C781.1 816.5 783.3 809.5 785.3 802.8C787.3 796 789.3 788.8 791.3 781.3C793.3 773.7 795.3 765 797.2 757.4C799.2 749.9 801.2 742.7 803.2 736C805.2 729.2 807 721.9 809.2 716.9C811.4 711.9 813.9 708.6 816.3 706.1C818.7 703.7 820.9 703.3 823.5 702.1C826.1 700.9 829.1 701.7 831.8 699C834.6 696.3 837.4 690.4 840.2 685.9C843 681.3 845.7 675.9 848.5 671.6C851.3 667.2 854.3 663.4 856.9 659.6C859.5 655.9 861.7 652 864 648.9C866.4 645.8 869 642.7 871.2 641C873.4 639.3 875.4 638.1 877.2 638.6C878.9 639.2 880.5 640.8 881.9 644.1C883.3 647.4 884.1 653.1 885.5 658.4C886.9 663.8 888.7 670.8 890.3 676.3C891.9 681.9 893.3 687.5 895 691.8C896.8 696.2 899.2 697.6 901 702.6C902.8 707.5 904.2 714.5 905.8 721.7C907.4 728.8 909 738 910.6 745.5C912.1 753.1 913.9 759.8 915.3 767C916.7 774.1 917.7 780.5 918.9 788.4C920.1 796.4 921.5 806.3 922.5 814.7C923.5 823 924.1 831 924.9 838.5C925.7 846.1 926.5 853.2 927.2 860C928 866.8 928.6 871.9 929.6 879.1C930.6 886.2 932 896.2 933.2 902.9C934.4 909.7 935.2 914.9 936.8 919.6C938.4 924.4 939.8 929.5 942.8 931.6C945.7 933.6 951.5 931.8 954.7 932C957.9 932.2 959.6 931.4 961.8 932.8C964 934.1 965.6 937.1 967.8 939.9C970 942.7 972.4 947.6 975 949.4C977.5 951.3 980.9 952.1 983.3 951.1C985.7 950.1 987.1 947.5 989.3 943.5C991.5 939.4 994 933 996.4 926.8C998.8 920.6 1001.2 913.7 1003.6 906.5C1006 899.4 1008.1 891.6 1010.7 883.9C1013.3 876.1 1016.3 866.4 1019.1 860C1021.9 853.6 1024.4 849.7 1027.4 845.7C1030.4 841.7 1033.6 839.7 1037 836.1C1040.4 832.6 1044.3 828.6 1047.7 824.2C1051.1 819.8 1054.1 815.5 1057.2 809.9C1060.4 804.3 1063.6 796.4 1066.8 790.8C1070 785.3 1073.1 780 1076.3 776.5C1079.5 773 1082.9 771.8 1085.9 769.8C1088.9 767.8 1091.4 767.1 1094.2 764.6C1097 762.1 1100 758.6 1102.6 755C1105.2 751.5 1107.3 746.7 1109.7 743.1C1112.1 739.5 1114.5 735.6 1116.9 733.6C1119.3 731.5 1121.7 730.9 1124 730.7C1126.4 730.5 1128.8 730.7 1131.2 732.4C1133.6 734.1 1136 737 1138.3 740.7C1140.7 744.5 1142.9 750.1 1145.5 755C1148.1 760 1151.1 765 1153.9 770.6C1156.6 776.1 1159.6 782.3 1162.2 788.4C1164.8 794.6 1167.4 802.3 1169.4 807.5C1171.3 812.8 1172.3 815.1 1174.1 820C1175.8 824.9 1177.6 831.1 1179.7 836.9C1181.7 842.6 1184 849.4 1186.2 854.7C1188.4 860 1190.6 864 1192.8 868.7C1195 873.4 1197.2 878.5 1199.3 882.8C1201.5 887 1203.7 890.9 1205.9 894C1208.1 897.1 1210.4 899.4 1212.5 901.5C1214.5 903.6 1216.7 905.5 1218.1 906.7C1219.5 907.8 1218.9 908.1 1220.9 908.5C1222.9 908.9 1227.4 909.2 1230.3 909C1233.1 908.8 1235.4 907.7 1237.8 907.1C1240.1 906.6 1241.7 906.5 1244.3 905.7C1247 904.9 1251.3 903.9 1253.7 902.4C1256 901 1256.8 898.5 1258.4 896.8C1259.9 895.1 1261.5 893.6 1263 892.1C1264.6 890.6 1266.2 889.2 1267.7 887.9C1269.3 886.7 1270.9 885.5 1272.4 884.6C1274 883.7 1275.5 883 1277.1 882.6C1278.7 882.1 1279.4 882 1281.8 882C1284.1 882.1 1288.6 883.1 1291.1 883C1293.6 882.8 1295.2 881.9 1296.8 880.9C1298.3 879.9 1299.3 878.5 1300.5 877.1C1301.8 875.7 1302.5 875.4 1304.3 872.5C1306 869.5 1308.6 864.2 1310.8 859.3C1313 854.5 1315.3 848.7 1317.4 843.4C1319.5 838.1 1321.5 834.3 1323.5 827.5C1325.5 820.7 1327.5 810.1 1329.4 802.8C1331.4 795.4 1333.6 788.6 1335.4 783.7C1337.2 778.7 1338.4 775.1 1340.2 772.9C1342 770.7 1344.2 769.8 1346.1 770.6C1348.1 771.3 1350.3 773.9 1352.1 777.7C1353.9 781.5 1355.5 787.4 1356.9 793.2C1358.3 799 1359.3 806.3 1360.5 812.3C1361.7 818.3 1362.6 824.4 1364 829C1365.4 833.6 1367.2 837.7 1368.8 839.7C1370.4 841.8 1371.8 842.4 1373.6 841.4C1375.4 840.4 1377.6 837.6 1379.5 833.8C1381.5 829.9 1383.5 823.8 1385.5 818.3C1387.5 812.7 1389.5 806.5 1391.5 800.4C1393.5 794.2 1395.4 786.3 1397.4 781.3C1399.4 776.3 1401 772.6 1403.4 770.6C1405.8 768.5 1409.4 770.3 1411.7 768.9C1414.1 767.5 1415.7 765.1 1417.7 762.2C1419.7 759.3 1421.5 754.8 1423.7 751.5C1425.9 748.1 1428.2 744.9 1430.8 741.9C1433.4 738.9 1436.6 736.8 1439.2 733.6C1441.8 730.4 1443.9 725.5 1446.3 722.8C1448.7 720.1 1451.1 717.6 1453.5 717.4C1455.9 717.2 1458.3 719.3 1460.6 721.7C1463 724 1465.2 727.8 1467.8 731.2C1470.4 734.6 1473.6 738.5 1476.1 741.9C1478.7 745.3 1481.1 748.1 1483.3 751.5C1485.5 754.8 1487.1 759.2 1489.3 762.2C1491.5 765.2 1493.8 767.4 1496.4 769.4C1499 771.3 1502.2 772.1 1504.8 774.1C1507.4 776.1 1509.7 778.1 1511.9 781.3C1514.1 784.5 1516.1 788.4 1517.9 793.2C1519.7 798 1521.1 804.3 1522.7 809.9C1524.3 815.5 1526 821 1527.4 826.6C1528.8 832.2 1529.6 837.7 1531 843.3C1532.4 848.9 1534.4 855.2 1535.8 860C1537.2 864.8 1537.8 868.1 1539.4 871.9C1540.9 875.7 1543.1 880.7 1545.3 882.7C1547.5 884.6 1550.1 884.8 1552.5 883.9C1554.9 882.9 1557.2 879.5 1559.6 876.7C1562 873.9 1564.4 869.3 1566.8 867.2C1569.2 865 1571.6 863.8 1573.9 863.6C1576.3 863.4 1578.7 865 1581.1 866C1583.5 866.9 1585.5 868.5 1588.3 869.1C1591 869.6 1594.6 869.8 1597.8 869.1C1601 868.3 1604.4 866.7 1607.3 864.8C1610.3 862.9 1612.9 860.4 1615.7 857.6C1618.5 854.8 1621.5 852 1624 848.1C1626.6 844.1 1628.8 838.9 1631.2 833.8C1633.6 828.6 1636 822.2 1638.3 817.1C1640.7 811.9 1642.7 807.5 1645.5 802.8C1648.3 798 1651.9 793.4 1655 788.4C1658.2 783.5 1661.6 778.1 1664.6 772.9C1667.6 767.8 1670.2 761.8 1672.9 757.4C1675.7 753.1 1678.7 749.4 1681.3 746.7C1683.9 744 1686.1 742.1 1688.4 741.2C1690.8 740.3 1693.4 740.1 1695.6 741.2C1697.8 742.3 1699.6 744.4 1701.6 747.9C1703.5 751.4 1705.5 757.8 1707.5 762.2C1709.5 766.6 1711.5 770.4 1713.5 774.1C1715.5 777.9 1717.5 782.7 1719.4 784.9C1721.4 787 1723.4 788.2 1725.4 787.2C1727.4 786.3 1729.2 782.5 1731.4 778.9C1733.6 775.3 1735.7 769.6 1738.5 765.8C1741.3 762 1745.2 758.6 1748.1 756.2C1750.9 753.9 1752.9 753.5 1755.5 751.5C1758.1 749.5 1761.3 746.1 1763.9 744.3C1766.4 742.5 1768.8 742.5 1771 740.7C1773.2 738.9 1775 735.1 1777 733.6C1779 732.1 1781.1 730.9 1782.9 731.7C1784.7 732.5 1785.9 735.8 1787.7 738.3C1789.5 740.9 1791.7 744.7 1793.7 746.7C1795.7 748.7 1797.4 749.6 1799.6 750.3C1801.8 751 1804.6 751 1806.8 750.8C1809 750.6 1810.8 748.4 1812.8 749.1C1814.7 749.8 1816.9 751.7 1818.7 755C1820.5 758.4 1821.9 765 1823.5 769.4C1825.1 773.7 1826.7 778.3 1828.3 781.3C1829.8 784.3 1831 786.5 1833 787.2C1835 788 1837.6 787.2 1840.2 786.1C1842.8 784.9 1845.9 782.1 1848.5 780.1C1851.1 778.1 1853.1 775.3 1855.7 774.1C1858.3 772.9 1861.7 773.3 1864 772.9C1866.4 772.6 1868 772.8 1870 772.2C1872 771.6 1873.4 769.8 1876 769.4C1878.5 768.9 1882.5 769.2 1885.5 769.4C1888.5 769.6 1891.5 770.9 1893.9 770.6C1896.2 770.2 1897.8 770.4 1899.8 767C1901.8 763.6 1903.8 755 1905.8 750.3C1907.8 745.5 1909.6 742.1 1911.7 738.3C1913.9 734.6 1916.5 730 1918.9 727.6C1921.3 725.2 1923.7 724.7 1926.1 724C1928.4 723.4 1930.6 722.8 1933.2 723.6C1935.8 724.3 1938.8 727.5 1941.6 728.3C1944.3 729.2 1947.1 728.1 1949.9 728.8C1952.7 729.5 1955.7 731.7 1958.3 732.4C1960.8 733.1 1963 732.1 1965.4 733.1C1967.8 734.1 1970.4 737.1 1972.6 738.3C1974.8 739.6 1975.9 740.7 1978.5 740.7C1981.1 740.8 1984.5 739.1 1988.1 738.8C1991.7 738.5 1996.8 738.3 2000 738.8C2003.2 739.3 2005.2 740.2 2007.2 741.9C2009.1 743.6 2010.7 747 2011.9 749.1C2013.1 751.2 2013.3 754.2 2014.3 754.6C2015.3 755 2016.5 751.5 2017.9 751.5C2019.3 751.5 2021.1 753.7 2022.7 754.6C2024.3 755.5 2025.4 757 2027.4 757C2029.4 757 2032 755.6 2034.6 754.6C2037.2 753.5 2040.6 751.5 2042.9 750.8C2045.3 750 2046.9 750.8 2048.9 749.8C2050.9 748.8 2052.5 746.3 2054.9 745C2057.2 743.7 2060.4 742.7 2063.2 741.9C2066 741.1 2069.4 740.4 2071.6 740.3C2073.7 740.1 2074.5 740.5 2076.3 741.2C2078.1 741.9 2080.1 744.2 2082.3 744.3C2084.5 744.4 2087.1 741.9 2089.4 741.9C2091.8 741.9 2094.4 744.1 2096.6 744.3C2098.8 744.5 2100.2 743.8 2102.6 743.1C2105 742.4 2107.9 741 2110.9 740.3C2113.9 739.5 2117.9 738.7 2120.5 738.8C2123 739 2124.4 740.2 2126.4 741.2C2128.4 742.2 2130.6 744.2 2132.4 745C2134.2 745.8 2135.4 745.3 2137.2 746C2138.9 746.7 2140.9 748.8 2143.1 749.1C2145.3 749.3 2147.9 748.2 2150.3 747.4C2152.7 746.6 2155 744.8 2157.4 744.3C2159.8 743.8 2162.6 744.6 2164.6 744.3C2166.6 744 2167.6 742.6 2169.4 742.6C2171.1 742.6 2172.9 744.3 2175.3 744.3C2177.7 744.3 2180.9 742.9 2183.7 742.6C2186.5 742.4 2189.4 742.2 2192 742.6C2194.6 743.1 2196.8 744.7 2199.2 745.5C2201.6 746.3 2203.9 747.2 2206.3 747.4C2208.7 747.6 2211.1 747.2 2213.5 746.7C2215.9 746.2 2218.5 745.6 2220.6 744.3C2222.8 743 2224.6 740.1 2226.6 738.8C2228.6 737.5 2230.8 737.7 2232.6 736.4C2234.4 735.2 2236.3 732.2 2237.3 731.2C2238.4 730.1 2238.7 730.3 2239 730.1"><title>SMPF-3</title></path>
<path class="c" stroke="#f0f" d="M247.5 225.6C251.4 225.4 257.9 224.8 271 224.4C284.1 224 311.2 223.6 325.9 223.4C340.6 223.3 345.7 223.3 359.3 223.7C372.8 224 395.8 225.5 407 225.6C418.1 225.7 416.1 224.4 426.1 224.4C436 224.4 453.9 224.8 466.6 225.6C479.3 226.4 491.3 228.2 502.4 229.2C513.5 230.2 525.4 230.9 533.4 231.6C541.3 232.2 543.3 232.3 550.1 233C556.9 233.7 568.4 235.6 573.9 235.9C579.5 236.1 580.3 233.9 583.5 234.4C586.7 234.9 589.4 237 593 238.7C596.6 240.4 601 241.9 605 244.7C608.9 247.5 613.3 251.2 616.9 255.4C620.5 259.6 623.2 263.4 626.4 269.7C629.6 276.1 633.2 285.2 636 293.6C638.7 301.9 640.7 310.3 643.1 319.8C645.5 329.4 647.5 340.1 650.3 350.8C653.1 361.6 656.6 373.1 659.8 384.2C663 395.4 666.2 407.3 669.4 417.6C672.5 428 675.7 438.3 678.9 446.2C682.1 454.2 685.7 460.6 688.4 465.3C691.2 470.1 693 472.3 695.6 474.9C698.2 477.4 700.8 480.4 703.9 480.8C707.1 481.2 710.5 479.8 714.7 477.2C718.9 474.7 724.4 468.5 729 465.3C733.6 462.1 738.1 457.2 742.1 458.2C746.1 459.2 750.5 466.8 753.1 471.4C755.7 476 756.3 481.3 757.9 485.7C759.5 490.1 761.1 494.4 762.7 497.6C764.3 500.8 765.8 503.4 767.4 504.8C769 506.2 770.4 506.6 772.2 506C774 505.4 776 504 778.2 501.2C780.4 498.4 782.9 493.4 785.3 489.3C787.7 485.1 790.1 480.7 792.5 476.1C794.9 471.6 797.2 466.2 799.6 461.8C802 457.5 804.4 453.7 806.8 449.9C809.2 446.1 811.4 442 813.9 439.2C816.5 436.3 819.5 433.5 822.3 432.7C825.1 431.9 828.7 435.5 830.6 434.4C832.6 433.3 831.8 428.7 834.2 426.1C836.6 423.4 841.6 420.7 845 418.4C848.3 416.1 851.7 414.6 854.5 412.2C857.3 409.8 859.1 406.8 861.7 404.1C864.2 401.4 867.4 398.2 870 396.2C872.6 394.3 875 392.6 877.2 392.2C879.3 391.8 881.1 392.4 883.1 393.9C885.1 395.3 887.1 398.1 889.1 401C891.1 403.9 892.7 408.7 895 411.3C897.4 413.9 901 413.7 903.4 416.5C905.8 419.4 907.4 423.7 909.4 428.4C911.3 433.2 913.5 439.6 915.3 445.1C917.1 450.7 918.7 455.9 920.1 461.8C921.5 467.8 922.7 474.6 923.7 480.9C924.7 487.3 925.1 493.6 926.1 500C927 506.4 928.2 513.1 929.6 519.1C931 525 932.6 531.4 934.4 535.8C936.2 540.2 938.2 543.3 940.4 545.3C942.6 547.3 944.3 547.3 947.5 547.7C950.7 548.1 956.5 547.1 959.4 547.7C962.4 548.3 963.4 549.5 965.4 551.3C967.4 553.1 969.2 556.5 971.4 558.4C973.6 560.4 976.1 562.6 978.5 563.2C980.9 563.8 983.5 563.4 985.7 562C987.9 560.6 989.7 558 991.7 554.9C993.6 551.7 995.4 547.5 997.6 542.9C999.8 538.4 1002.4 532.2 1004.8 527.4C1007.2 522.7 1009.3 518.5 1011.9 514.3C1014.5 510.1 1017.5 505.1 1020.3 502.4C1023.1 499.7 1025.6 499.4 1028.6 498.1C1031.6 496.8 1035 496.4 1038.2 494.8C1041.3 493.1 1044.5 490 1047.7 488.1C1050.9 486.2 1054.1 485.9 1057.2 483.3C1060.4 480.7 1063.6 475.7 1066.8 472.6C1070 469.4 1073.1 466.4 1076.3 464.2C1079.5 462 1082.7 461 1085.9 459.4C1089.1 457.9 1092.2 456.7 1095.4 454.7C1098.6 452.7 1101.8 450.3 1105 447.5C1108.1 444.7 1111.3 440.6 1114.5 438C1117.7 435.4 1120.9 433.1 1124 432C1127.2 430.9 1130.4 430.5 1133.6 431.3C1136.8 432.1 1139.5 434.1 1143.1 436.8C1146.7 439.5 1151.1 443.5 1155 447.5C1159 451.5 1163.4 455.9 1167 460.6C1170.6 465.4 1173.3 471 1176.5 476.1C1179.7 481.3 1182.9 486.7 1186.1 491.7C1189.2 496.6 1192.4 501.4 1195.6 506C1198.8 510.5 1202 515.3 1205.1 519.1C1208.3 522.9 1211.5 526 1214.7 528.6C1217.9 531.2 1221 533.8 1224.2 534.6C1227.4 535.4 1230.6 533.6 1233.8 533.4C1236.9 533.2 1239.1 534.6 1243.3 533.4C1247.5 532.2 1254.9 528.8 1259.1 526.2C1263.3 523.7 1265.4 519.8 1268.6 517.9C1271.8 516 1274.2 515.3 1278.2 514.8C1282.1 514.3 1288.5 515.9 1292.5 514.8C1296.5 513.7 1298.8 511.6 1302 508.3C1305.2 505.1 1308.4 500.2 1311.6 495.2C1314.7 490.3 1317.9 484.5 1321.1 478.5C1324.3 472.6 1327.9 464.8 1330.6 459.4C1333.4 454.1 1335.6 449.2 1337.8 446.3C1340 443.5 1341.6 442 1343.8 442.3C1345.9 442.6 1348.7 445.1 1350.9 448C1353.1 450.9 1354.9 454.8 1356.9 459.4C1358.9 464.1 1360.9 471.2 1362.8 476.1C1364.8 481.1 1366.8 486.9 1368.8 489.3C1370.8 491.7 1372.6 491.5 1374.8 490.5C1377 489.5 1379.5 486.5 1381.9 483.3C1384.3 480.1 1386.7 475.2 1389.1 471.4C1391.5 467.6 1393.9 463.4 1396.2 460.6C1398.6 457.9 1400.8 455.7 1403.4 454.7C1406 453.7 1409.2 455.1 1411.7 454.7C1414.3 454.3 1416.5 453.7 1418.9 452.3C1421.3 450.9 1423.3 448.1 1426.1 446.3C1428.8 444.5 1432.4 443 1435.6 441.6C1438.8 440.1 1442.4 438.4 1445.1 437.5C1447.9 436.6 1450.1 436 1452.3 436.1C1454.5 436.2 1455.9 436.3 1458.3 438C1460.6 439.7 1463.2 443.3 1466.6 446.3C1470 449.3 1475 452.7 1478.5 455.9C1482.1 459.1 1485.1 462.8 1488.1 465.4C1491.1 468 1493.4 469.8 1496.4 471.4C1499.4 473 1502.8 473.8 1506 475C1509.1 476.1 1512.5 476.1 1515.5 478.5C1518.5 480.9 1521.3 485.3 1523.9 489.3C1526.4 493.2 1528.6 498.2 1531 502.4C1533.4 506.6 1535.8 511.1 1538.2 514.3C1540.6 517.5 1542.7 520.3 1545.3 521.5C1547.9 522.7 1551.1 522.5 1553.7 521.5C1556.3 520.5 1558.4 517.5 1560.8 515.5C1563.2 513.5 1565.4 510.7 1568 509.5C1570.6 508.3 1573.3 508.1 1576.3 508.3C1579.3 508.5 1582.7 510.5 1585.9 510.7C1589.1 510.9 1592.6 509.9 1595.4 509.5C1598.2 509.1 1600 509.7 1602.6 508.3C1605.2 507 1608.1 503.4 1610.9 501.2C1613.7 499 1616.7 497.6 1619.3 495.2C1621.9 492.8 1624 489.7 1626.4 486.9C1628.8 484.1 1631.2 481.9 1633.6 478.5C1636 475.2 1638 470.4 1640.7 466.6C1643.5 462.8 1646.7 459.4 1650.3 455.9C1653.9 452.3 1658.6 449.1 1662.2 445.1C1665.8 441.2 1668.6 435.8 1671.7 432C1674.9 428.2 1678.3 424.7 1681.3 422.5C1684.3 420.2 1686.7 418.8 1689.6 418.4C1692.6 418 1696.2 418.2 1699.2 420.1C1702.2 422 1704.7 426.5 1707.5 429.6C1710.3 432.8 1712.9 436.6 1715.9 439.2C1718.9 441.8 1722.6 445.3 1725.4 445.1C1728.2 444.9 1729.8 440.4 1732.6 438C1735.4 435.6 1738.1 433.2 1742.1 430.8C1746.1 428.4 1753.1 425.7 1756.7 423.7C1760.3 421.6 1761.5 419.4 1763.9 418.4C1766.2 417.4 1768.2 418.8 1771 417.7C1773.8 416.6 1777.8 411.7 1780.6 411.7C1783.3 411.7 1784.9 415.3 1787.7 417.7C1790.5 420.1 1794.5 424.9 1797.2 426.1C1800 427.2 1802 425.1 1804.4 424.9C1806.8 424.7 1809 424.1 1811.6 424.9C1814.1 425.7 1817.3 427 1819.9 429.6C1822.5 432.2 1824.9 437.7 1827.1 440.4C1829.3 443 1830.4 445 1833 445.6C1835.6 446.2 1839 445 1842.6 443.9C1846.1 442.9 1850.9 440 1854.5 439.2C1858.1 438.4 1861.3 439.4 1864 439.2C1866.8 439 1868 438 1871.2 438C1874.4 438 1879.5 438.1 1883.1 439.2C1886.7 440.3 1889.9 444.1 1892.7 444.7C1895.4 445.2 1897.4 444.2 1899.8 442.3C1902.2 440.4 1904.2 436.7 1907 433.2C1909.8 429.7 1913.7 423.9 1916.5 421.3C1919.3 418.7 1921.1 418.7 1923.7 417.7C1926.3 416.7 1929.2 415.2 1932 415.3C1934.8 415.4 1937.8 417.9 1940.4 418.4C1943 418.9 1944.7 417.6 1947.5 418.4C1950.3 419.2 1954.3 422.3 1957.1 423.2C1959.8 424.1 1961.8 422.5 1964.2 423.7C1966.6 424.9 1968.2 429.1 1971.4 430.3C1974.6 431.6 1979.7 431.6 1983.3 431.3C1986.9 431 1989.7 428.2 1992.8 428.4C1996 428.7 1999.8 432.3 2002.4 432.7C2005 433.2 2006.4 430.2 2008.3 431.3C2010.3 432.4 2011.7 437.9 2014.3 439.2C2016.9 440.5 2020.9 438.6 2023.9 439.2C2026.8 439.8 2029.4 443 2032.2 442.8C2035 442.6 2038.2 438.3 2040.6 438C2042.9 437.7 2044.5 441 2046.5 440.8C2048.5 440.6 2049.9 437.5 2052.5 436.8C2055.1 436.1 2059.2 437.3 2062 436.8C2064.8 436.3 2066.6 433.4 2069.2 433.7C2071.8 434 2074.9 438.1 2077.5 438.5C2080.1 438.9 2082.1 435.7 2084.7 436.1C2087.3 436.5 2090.6 440.6 2093 440.8C2095.4 441.1 2096.6 437.4 2099 437.5C2101.4 437.6 2104.8 441.8 2107.3 441.6C2109.9 441.3 2112.1 436.5 2114.5 436.1C2116.9 435.7 2119.3 438.9 2121.7 439.2C2124 439.5 2126.2 437.2 2128.8 438C2131.4 438.8 2134.6 443.2 2137.2 443.9C2139.7 444.7 2141.9 442.2 2144.3 442.3C2146.7 442.4 2148.9 445 2151.5 444.7C2154.1 444.3 2157.2 440.8 2159.8 440.4C2162.4 440 2164.4 442.8 2167 442.3C2169.6 441.8 2172.9 437.9 2175.3 437.5C2177.7 437.1 2179.1 440 2181.3 439.9C2183.5 439.8 2185.9 436.3 2188.4 436.8C2191 437.3 2194.4 442.2 2196.8 442.8C2199.2 443.3 2200.6 439.8 2202.8 439.9C2204.9 440 2207.5 443 2209.9 443.2C2212.3 443.5 2214.3 442.1 2217.1 441.6C2219.8 441 2223.8 441.3 2226.6 439.9C2229.4 438.5 2232 434.5 2233.8 433.2C2235.6 431.9 2236.5 432.3 2237.3 432C2238.2 431.8 2238.7 431.7 2239 431.7"><title>SMPF-4</title></path>
</g>
<g id="peak-lines">
<path class="d" stroke-width="3.8" d="M702.8 367.5V388.9M702.8 404V425.4M702.8 440.4V461.8M702.8 476.9V498.3M702.8 513.4V534.8M702.8 549.9V571.3M702.8 586.3V607.7M702.8 622.8V644.2M702.8 659.3V680.7M702.8 695.7V717.1M702.8 732.2V753.6M702.8 768.7V790.1M702.8 805.1V826.5M702.8 841.6V863M702.8 878.1V899.5M702.8 914.6V936M702.8 951V972.4M702.8 987.5V1008.9M702.8 1024V1045.4M702.8 1060.4V1081.8M702.8 1096.9V1118.3M702.8 1133.4V1154.8M702.8 1169.8V1191.2M702.8 1206.3V1227.7M702.8 1242.8V1262.3"/>
<path class="d" stroke-width="4.0" d="M769.8 397.4V405M769.8 420.1V441.5M769.8 456.6V478M769.8 493V514.4M769.8 529.5V550.9M769.8 566V587.4M769.8 602.5V623.9M769.8 638.9V660.3M769.8 675.4V696.8M769.8 711.9V733.3M769.8 748.3V769.7M769.8 784.8V806.2M769.8 821.3V842.7M769.8 857.7V879.1M769.8 894.2V915.6M769.8 930.7V952.1M769.8 967.2V988.6M769.8 1003.6V1025M769.8 1040.1V1061.5M769.8 1076.6V1098M769.8 1113V1134.4M769.8 1149.5V1170.9M769.8 1186V1207.4M769.8 1222.4V1243.8M769.8 1258.9V1280.3M769.8 1295.4V1315.7"/>
<path class="d" stroke-width="4.1" d="M940.4 386.7V408.1M940.4 423.2V444.6M940.4 459.6V481M940.4 496.1V517.5M940.4 532.6V554M940.4 569.1V590.5M940.4 605.5V626.9M940.4 642V663.4M940.4 678.5V699.9M940.4 714.9V736.3M940.4 751.4V772.8M940.4 787.9V809.3M940.4 824.3V845.7M940.4 860.8V882.2M940.4 897.3V918.7M940.4 933.8V955.2M940.4 970.2V991.6M940.4 1006.7V1028.1M940.4 1043.2V1064.6M940.4 1079.6V1101M940.4 1116.1V1137.5M940.4 1152.6V1174M940.4 1189V1210.4M940.4 1225.5V1246.9M940.4 1262V1283.4M940.4 1298.5V1319.9M940.4 1334.9V1356.3M940.4 1371.4V1392.8M940.4 1407.9V1429.3M940.4 1444.3V1464.3"/>
<path class="d" stroke-width="5.2" d="M983.3 302.5V306M983.3 321.1V342.5M983.3 357.6V379M983.3 394V415.4M983.3 430.5V451.9M983.3 467V488.4M983.3 503.5V524.9M983.3 539.9V561.3M983.3 576.4V597.8M983.3 612.9V634.3M983.3 649.3V670.7M983.3 685.8V707.2M983.3 722.3V743.7M983.3 758.7V780.1M983.3 795.2V816.6M983.3 831.7V853.1M983.3 868.2V889.6M983.3 904.6V926M983.3 941.1V962.5M983.3 977.6V999M983.3 1014V1035.4M983.3 1050.5V1071.9M983.3 1087V1108.4M983.3 1123.4V1144.8M983.3 1159.9V1181.3M983.3 1196.4V1217.8M983.3 1232.9V1254.3M983.3 1269.3V1290.7M983.3 1305.8V1327.2M983.3 1342.3V1363.7M983.3 1378.7V1400.1M983.3 1415.2V1436.6M983.3 1451.7V1471.9"/>
<path class="d" stroke-width="5.0" d="M1221.4 430.8V452.2M1221.4 467.3V488.7M1221.4 503.7V525.1M1221.4 540.2V561.6M1221.4 576.7V598.1M1221.4 613.2V634.6M1221.4 649.6V671M1221.4 686.1V707.5M1221.4 722.6V744M1221.4 759V780.4M1221.4 795.5V816.9M1221.4 832V853.4M1221.4 868.4V889.8M1221.4 904.9V926.3M1221.4 941.4V962.8M1221.4 977.9V999.3M1221.4 1014.3V1035.7M1221.4 1050.8V1072.2M1221.4 1087.3V1108.7M1221.4 1123.7V1145.1M1221.4 1160.2V1181.6M1221.4 1196.7V1218.1M1221.4 1233.1V1254.5M1221.4 1269.6V1291M1221.4 1306.1V1327.5M1221.4 1342.6V1364M1221.4 1379V1400.4M1221.4 1415.5V1436.1"/>
<path class="d" stroke-width="4.5" d="M1414.1 392.7V414.1M1414.1 429.2V450.6M1414.1 465.6V487M1414.1 502.1V523.5M1414.1 538.6V560M1414.1 575.1V596.5M1414.1 611.5V632.9M1414.1 648V669.4M1414.1 684.5V705.9M1414.1 720.9V742.3M1414.1 757.4V778.8M1414.1 793.9V815.3M1414.1 830.3V851.7M1414.1 866.8V888.2M1414.1 903.3V924.7M1414.1 939.8V961.2M1414.1 976.2V997.6M1414.1 1012.7V1034.1M1414.1 1049.2V1070.6M1414.1 1085.6V1107M1414.1 1122.1V1143.5M1414.1 1158.6V1180M1414.1 1195V1216.4M1414.1 1231.5V1252.9M1414.1 1268V1289.4M1414.1 1304.5V1325.9M1414.1 1340.9V1362.3M1414.1 1377.4V1396.8"/>
<path class="d" stroke-width="4.8" d="M1550.1 408.9V430.3M1550.1 445.4V466.8M1550.1 481.8V503.2M1550.1 518.3V539.7M1550.1 554.8V576.2M1550.1 591.3V612.7M1550.1 627.7V649.1M1550.1 664.2V685.6M1550.1 700.7V722.1M1550.1 737.1V758.5M1550.1 773.6V795M1550.1 810.1V831.5M1550.1 846.5V867.9M1550.1 883V904.4M1550.1 919.5V940.9M1550.1 956V977.4M1550.1 992.4V1013.8M1550.1 1028.9V1050.3M1550.1 1065.4V1086.8M1550.1 1101.8V1123.2M1550.1 1138.3V1159.7M1550.1 1174.8V1196.2M1550.1 1211.2V1232.6M1550.1 1247.7V1269.1M1550.1 1284.2V1305.6M1550.1 1320.7V1342.1M1550.1 1357.1V1378.5M1550.1 1393.6V1414.7"/>
<path class="d" stroke-width="4.4" d="M1616.9 385.2V395.3M1616.9 410.4V431.8M1616.9 446.9V468.3M1616.9 483.3V504.7M1616.9 519.8V541.2M1616.9 556.3V577.7M1616.9 592.8V614.2M1616.9 629.2V650.6M1616.9 665.7V687.1M1616.9 702.2V723.6M1616.9 738.6V760M1616.9 775.1V796.5M1616.9 811.6V833M1616.9 848V869.4M1616.9 884.5V905.9M1616.9 921V942.4M1616.9 957.5V978.9M1616.9 993.9V1015.3M1616.9 1030.4V1051.8M1616.9 1066.9V1088.3M1616.9 1103.3V1124.7M1616.9 1139.8V1161.2M1616.9 1176.3V1197.7M1616.9 1212.7V1234.1M1616.9 1249.2V1270.6M1616.9 1285.7V1307.1M1616.9 1322.2V1343.6M1616.9 1358.6V1377.7"/>
<path class="d" stroke-width="4.4" d="M1800.1 356.2V365.9M1800.1 381V402.4M1800.1 417.5V438.9M1800.1 453.9V475.3M1800.1 490.4V511.8M1800.1 526.9V548.3M1800.1 563.4V584.8M1800.1 599.8V621.2M1800.1 636.3V657.7M1800.1 672.8V694.2M1800.1 709.2V730.6M1800.1 745.7V767.1M1800.1 782.2V803.6M1800.1 818.6V840M1800.1 855.1V876.5M1800.1 891.6V913M1800.1 928.1V949.5M1800.1 964.5V985.9M1800.1 1001V1022.4M1800.1 1037.5V1058.9M1800.1 1073.9V1095.3M1800.1 1110.4V1131.8M1800.1 1146.9V1168.3M1800.1 1183.3V1204.7M1800.1 1219.8V1241.2M1800.1 1256.3V1277.7M1800.1 1292.8V1314.2M1800.1 1329.2V1349.8"/>
<path class="d" stroke-width="4.6" d="M1899.1 369.1V390.5M1899.1 405.6V427M1899.1 442V463.4M1899.1 478.5V499.9M1899.1 515V536.4M1899.1 551.5V572.9M1899.1 587.9V609.3M1899.1 624.4V645.8M1899.1 660.9V682.3M1899.1 697.3V718.7M1899.1 733.8V755.2M1899.1 770.3V791.7M1899.1 806.7V828.1M1899.1 843.2V864.6M1899.1 879.7V901.1M1899.1 916.2V937.6M1899.1 952.6V974M1899.1 989.1V1010.5M1899.1 1025.6V1047M1899.1 1062V1083.4M1899.1 1098.5V1119.9M1899.1 1135V1156.4M1899.1 1171.4V1192.8M1899.1 1207.9V1229.3M1899.1 1244.4V1265.8M1899.1 1280.9V1302.3M1899.1 1317.3V1338.7M1899.1 1353.8V1374.6"/>
<path class="d" stroke-width="4.4" d="M2026.2 359.3V380.7M2026.2 395.8V417.2M2026.2 432.2V453.6M2026.2 468.7V490.1M2026.2 505.2V526.6M2026.2 541.7V563.1M2026.2 578.1V599.5M2026.2 614.6V636M2026.2 651.1V672.5M2026.2 687.5V708.9M2026.2 724V745.4M2026.2 760.5V781.9M2026.2 796.9V818.3M2026.2 833.4V854.8M2026.2 869.9V891.3M2026.2 906.4V927.8M2026.2 942.8V964.2M2026.2 979.3V1000.7M2026.2 1015.8V1037.2M2026.2 1052.2V1073.6M2026.2 1088.7V1110.1M2026.2 1125.2V1146.6M2026.2 1161.6V1183M2026.2 1198.1V1219.5M2026.2 1234.6V1256M2026.2 1271.1V1292.5M2026.2 1307.5V1328.9M2026.2 1344V1364.6"/>
</g>
<g id="axes">
<rect x="248.1" y="39.9" width="1989.9" height="1466.1" fill="none" stroke="#000" stroke-width="6.1" stroke-linejoin="round"/>
<path class="ax" d="M247.7 1506V1535M413.5 1506V1521.2M579.3 1506V1535M745.1 1506V1521.2M910.9 1506V1535M1076.7 1506V1521.2M1242.5 1506V1535M1408.3 1506V1521.2M1574.1 1506V1535M1739.9 1506V1521.2M1905.7 1506V1535M2071.5 1506V1521.2M2237.3 1506V1535"/>
</g>
<g id="labels">
<text class="tk" x="154.9" y="1629.2" style="letter-spacing:0.10px">2000</text>
<text class="tk" x="486.1" y="1629.2" style="letter-spacing:-0.10px">1750</text>
<text class="tk" x="818.1" y="1629.2" style="letter-spacing:-0.20px">1500</text>
<text class="tk" x="1149.5" y="1629.2" style="letter-spacing:0.23px">1250</text>
<text class="tk" x="1480.4" y="1629.2" style="letter-spacing:0.07px">1000</text>
<text class="tk" x="1831.7" y="1629.2" style="letter-spacing:1.65px">750</text>
<text class="tk" x="2166.5" y="1629.2">500</text>
<text class="pk" x="606.6" y="1312.7" style="letter-spacing:0.03px">1654</text>
<text class="pk" x="730" y="1378.3" style="letter-spacing:0.47px">1607</text>
<text class="pk" x="857.6" y="362.9" style="letter-spacing:0.60px">1475</text>
<text class="pk" x="940.9" y="295" style="letter-spacing:0.73px">1445</text>
<text class="pk" x="1163.8" y="399.8" style="letter-spacing:0.67px">1270</text>
<text class="pk" x="1378.4" y="366.85" style="letter-spacing:-0.17px">1124</text>
<text class="pk" x="1511.8" y="1465.75" style="letter-spacing:-0.10px">1018</text>
<text class="pk" x="1595.9" y="360" style="letter-spacing:0.35px">967</text>
<text class="pk" x="1733.2" y="338.3" style="letter-spacing:-1.65px;font-size:58px">833</text>
<text class="pk" x="1851.4" y="330.05" style="letter-spacing:1.10px">756</text>
<text class="pk" x="1978" y="1438.4" style="letter-spacing:0.95px">660</text>
<text class="lb" x="291.4" y="201.9" style="letter-spacing:-1.40px">SMPF-4</text>
<text class="lb" x="286.7" y="379.05" style="letter-spacing:-0.74px">SMPF-3</text>
<text class="lb" x="286.4" y="641.9" style="letter-spacing:-0.90px">SMPF-2</text>
<text class="lb" x="288.5" y="811.35" style="letter-spacing:-1.38px">SMPF-1</text>
<text class="lb" x="294.6" y="1072.8" style="letter-spacing:-1.20px">PF</text>
<text class="tt" x="827.5" y="1786" style="letter-spacing:-0.39px">Wavenumbers (cm<tspan x="1578.8" y="1742.2" style="font-size:56px;letter-spacing:0">-1</tspan><tspan x="1624" y="1786">)</tspan></text>
<text class="tt" transform="translate(104.2 1129.1) rotate(-90)" style="letter-spacing:-0.3px">Transmittance (%)</text>
</g>
</svg>
</body>
</html>
